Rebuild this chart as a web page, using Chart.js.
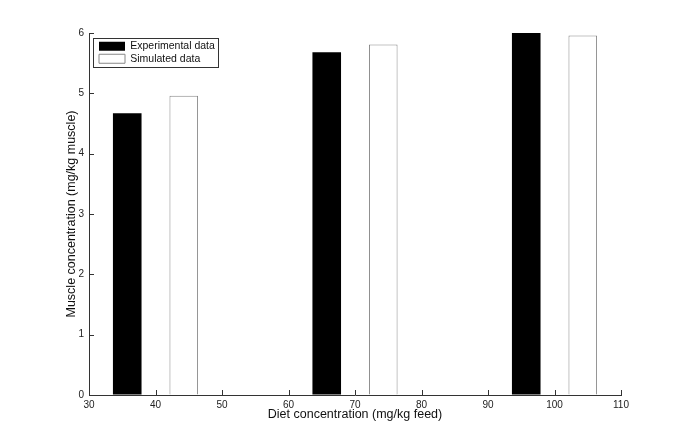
<!DOCTYPE html>
<html>
<head>
<meta charset="utf-8">
<script src="https://cdn.jsdelivr.net/npm/chart.js@4/dist/chart.umd.min.js"></script>
<style>
  body { margin: 0; background: #fff; }
  canvas { display: block; }
</style>
</head>
<body>
<canvas id="barChart" width="685" height="445"></canvas>
<script>
// diet concentrations (mg/kg feed) and muscle concentrations (mg/kg muscle)
const dietLevels = [40, 70, 100];
const experimental = [4.67, 5.68, 6.0];
const simulated = [4.96, 5.81, 5.96];
const xTicks = [30, 40, 50, 60, 70, 80, 90, 100, 110];
const yTicks = [0, 1, 2, 3, 4, 5, 6];

const FONT = "'Liberation Sans', Arial, Helvetica, sans-serif";
const axisColor = '#333';

function toPoints(values) {
    return dietLevels.map((d, i) => ({ x: d, y: values[i] }));
}

// matlab style ticks drawn inside the axes
const inwardTicks = {
    id: 'inwardTicks',
    afterDraw(chart) {
        const ctx = chart.ctx;
        const xs = chart.scales.x, ys = chart.scales.y;
        const len = 5;
        ctx.save();
        ctx.strokeStyle = axisColor;
        ctx.lineWidth = 1;
        ctx.beginPath();
        xTicks.forEach(v => {
            const px = Math.round(xs.getPixelForValue(v)) + 0.5;
            ctx.moveTo(px, ys.bottom);
            ctx.lineTo(px, ys.bottom - len);
        });
        yTicks.forEach(v => {
            const py = Math.round(ys.getPixelForValue(v)) + 0.5;
            ctx.moveTo(xs.left, py);
            ctx.lineTo(xs.left + len, py);
        });
        ctx.stroke();
        ctx.restore();
    }
};

// nudge the legend inside the axes and frame it
const legendFrame = {
    id: 'legendFrame',
    afterLayout(chart) {
        const lg = chart.legend;
        const w = lg.width, h = lg.height;
        lg.left = chart.chartArea.left + 8;
        lg.top = chart.chartArea.top + 6;
        lg.right = lg.left + w;
        lg.bottom = lg.top + h;
    },
    afterDraw(chart) {
        const boxes = chart.legend.legendHitBoxes;
        if (!boxes || !boxes.length) return;
        const left = Math.min(...boxes.map(b => b.left)) - 6;
        const top = Math.min(...boxes.map(b => b.top)) - 3;
        const right = Math.max(...boxes.map(b => b.left + b.width)) + 3;
        const bottom = Math.max(...boxes.map(b => b.top + b.height)) + 3;
        const ctx = chart.ctx;
        ctx.save();
        ctx.strokeStyle = axisColor;
        ctx.lineWidth = 1;
        ctx.strokeRect(Math.round(left) + 0.5, Math.round(top) + 0.5, Math.round(right - left), Math.round(bottom - top));
        ctx.restore();
    }
};

new Chart(document.getElementById('barChart'), {
    type: 'bar',
    data: {
        datasets: [{
            label: 'Experimental data',
            data: toPoints(experimental),
            backgroundColor: '#000',
            borderColor: '#000',
            borderWidth: 0
        }, {
            label: 'Simulated data',
            data: toPoints(simulated),
            backgroundColor: '#fff',
            borderColor: '#888',
            borderWidth: 1
        }]
    },
    options: {
        responsive: false,
        animation: false,
        categoryPercentage: 1.7,
        barPercentage: 0.506,
        layout: {
            padding: { left: 64, right: 64, top: 33, bottom: 23 }
        },
        scales: {
            x: {
                type: 'linear',
                min: 30,
                max: 110,
                offset: false,
                afterFit: s => { s.height = 27; },
                afterBuildTicks: s => { s.ticks = xTicks.map(v => ({ value: v })); },
                grid: { offset: false, drawOnChartArea: false, drawTicks: false },
                border: { display: true, color: axisColor, width: 1 },
                ticks: {
                    color: '#222',
                    padding: 4,
                    maxRotation: 0,
                    font: { family: FONT, size: 10 }
                },
                title: {
                    display: true,
                    text: 'Diet concentration (mg/kg feed)',
                    color: '#111',
                    padding: 0,
                    font: { family: FONT, size: 12.5 }
                }
            },
            y: {
                min: 0,
                max: 6,
                afterFit: s => { s.width = 25; },
                afterBuildTicks: s => { s.ticks = yTicks.map(v => ({ value: v })); },
                grid: { drawOnChartArea: false, drawTicks: false },
                border: { display: true, color: axisColor, width: 1 },
                ticks: {
                    color: '#222',
                    padding: 5,
                    font: { family: FONT, size: 10 }
                },
                title: {
                    display: true,
                    text: 'Muscle concentration (mg/kg muscle)',
                    color: '#111',
                    padding: 0,
                    font: { family: FONT, size: 12.5 }
                }
            }
        },
        plugins: {
            legend: {
                position: 'chartArea',
                align: 'start',
                labels: {
                    color: '#111',
                    boxWidth: 26,
                    boxHeight: 9,
                    padding: 2,
                    font: { family: FONT, size: 10.5 }
                }
            },
            tooltip: { enabled: false }
        }
    },
    plugins: [inwardTicks, legendFrame]
});
</script>
</body>
</html>
